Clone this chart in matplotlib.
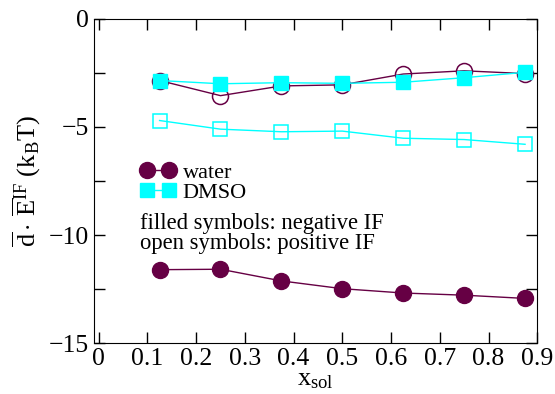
import numpy as np
import matplotlib.pyplot as plt
from matplotlib.ticker import MultipleLocator

plt.rcParams['font.family'] = 'Liberation Serif'
plt.rcParams['mathtext.fontset'] = 'custom'
plt.rcParams['mathtext.rm'] = 'Liberation Serif'
plt.rcParams['mathtext.it'] = 'Liberation Serif:italic'

x_sol = [0.125, 0.25, 0.375, 0.5, 0.625, 0.75, 0.875]

water_neg = [-11.6, -11.58, -12.12, -12.48, -12.68, -12.78, -12.93]
water_pos = [-2.85, -3.55, -3.1, -3.05, -2.55, -2.4, -2.53]
dmso_neg = [-2.85, -3.0, -2.95, -2.98, -2.93, -2.72, -2.47]
dmso_pos = [-4.7, -5.1, -5.22, -5.19, -5.52, -5.58, -5.8]

purple = '#660044'
cyan = '#00FFFF'

fig = plt.figure(figsize=(5.55, 3.94), dpi=100)
ax = fig.add_axes([0.169, 0.129, 0.799, 0.823])

# open symbols: positive IF
ax.plot(x_sol, water_pos, '-o', color=purple, lw=1, ms=11.5, mfc='none', mew=1.1)
ax.plot(x_sol, dmso_pos, '-s', color=cyan, lw=1, ms=10, mfc='none', mew=1.1)
# filled symbols: negative IF
ax.plot(x_sol, water_neg, '-o', color=purple, lw=1, ms=11.5, label='water')
ax.plot(x_sol, dmso_neg, '-s', color=cyan, lw=1, ms=10, label='DMSO')

ax.set_xlim(-0.01, 0.9)
ax.set_ylim(-15, 0)
ax.yaxis.set_major_locator(MultipleLocator(5))
ax.yaxis.set_minor_locator(MultipleLocator(2.5))
ax.set_xticks(np.arange(0, 0.91, 0.1))
ax.set_xticklabels(['0', '0.1', '0.2', '0.3', '0.4', '0.5', '0.6', '0.7', '0.8', '0.9'])
ax.tick_params(which='both', direction='in', top=True, right=True, labelsize=18.5)
ax.tick_params(which='both', length=8, width=1)

ax.set_xlabel(r'$\mathrm{x_{sol}}$', fontsize=19, labelpad=-1)
ax.set_ylabel(r'$\overline{\mathrm{d}}\cdot\,\overline{\mathrm{E}}^{\mathrm{IF}}\ (\mathrm{k_B T})$',
              fontsize=19, labelpad=4)

leg = ax.legend(loc='upper left', bbox_to_anchor=(0.08, 0.593), frameon=False,
                numpoints=2, handlelength=1.6, handletextpad=0.3,
                labelspacing=0.0, fontsize=16, borderpad=0)

ax.text(0.105, 0.40, 'filled symbols: negative IF\nopen symbols: positive IF',
        transform=ax.transAxes, fontsize=16.3, linespacing=0.9, va='top')

fig.savefig('out.png', dpi=100)
